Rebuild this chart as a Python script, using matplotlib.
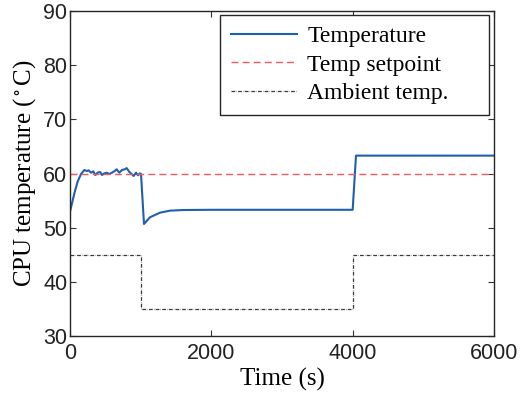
import matplotlib
matplotlib.use('Agg')
import matplotlib.pyplot as plt

# CPU temperature trace (s, degC)
temp_t = [0, 61, 108, 156, 203, 236, 264, 297, 330, 358, 391, 425, 453, 486,
          519, 557, 594, 632, 660, 698, 736, 774, 802, 840, 873, 901, 934,
          962, 990, 1005, 1047, 1132, 1274, 1415, 1604, 2000, 3000, 4000,
          4047, 5000, 6000]
temp_v = [52.95, 56.3, 58.5, 59.9, 60.65, 60.46, 60.58, 60.15, 60.4, 59.72,
          60.15, 60.28, 59.72, 60.03, 60.15, 59.9, 60.15, 60.46, 60.77, 60.15,
          60.65, 60.77, 61.0, 60.28, 59.9, 59.54, 60.15, 59.66, 60.03, 59.9,
          50.68, 51.92, 52.77, 53.14, 53.26, 53.3, 53.3, 53.3,
          63.3, 63.3, 63.3]

setpoint_t = [0, 6000]
setpoint_v = [60, 60]

ambient_t = [0, 1000, 1000, 4000, 4000, 6000]
ambient_v = [45, 45, 35, 35, 45, 45]

xticks = [0, 2000, 4000, 6000]
yticks = [30, 40, 50, 60, 70, 80, 90]

plt.rcParams['mathtext.fontset'] = 'stix'
plt.rcParams['xtick.direction'] = 'in'
plt.rcParams['ytick.direction'] = 'in'

fig = plt.figure(figsize=(5.21, 3.97), dpi=100)
ax = fig.add_axes([70 / 521, 61 / 397, 424 / 521, 325 / 397])

ax.plot(temp_t, temp_v, color='#1f5fad', lw=1.5, label='Temperature')
ax.plot(setpoint_t, setpoint_v, color='#ee5a62', lw=1.0, ls=(0, (5, 3)),
        label='Temp setpoint')
ax.plot(ambient_t, ambient_v, color='#3a3a3a', lw=0.9, ls=(0, (3, 1, 0.3, 1)),
        label='Ambient temp.')

ax.set_xlim(0, 6000)
ax.set_ylim(30, 90)
ax.set_xticks(xticks)
ax.set_yticks(yticks)
ax.tick_params(top=True, right=True, length=4, width=0.8, color='#333333',
               labelsize=15.5, pad=2)
ax.tick_params(axis='x', pad=5)
for lab in ax.get_xticklabels() + ax.get_yticklabels():
    lab.set_fontfamily('Liberation Sans')
    lab.set_color('#222222')
for sp in ax.spines.values():
    sp.set_color('#262626')
    sp.set_linewidth(1.0)

ax.set_xlabel('Time (s)', fontsize=18, family='Liberation Serif', labelpad=3)
ax.set_ylabel('CPU temperature ($^\\circ$C)', fontsize=18,
              family='Liberation Serif', labelpad=4)

# Matlab-style legend box: wide frame with the entries pinned to the left
leg = ax.legend(loc='upper left', bbox_to_anchor=(0.354, 0.0, 0.634, 0.988),
                mode='expand', prop={'family': 'Liberation Serif', 'size': 17},
                fancybox=False, framealpha=1, edgecolor='#262626',
                handlelength=2.8, handletextpad=0.45, borderaxespad=0.0,
                labelspacing=0.3, borderpad=0.45)
leg.get_frame().set_linewidth(1.0)

fig.savefig('out.png', dpi=100)
